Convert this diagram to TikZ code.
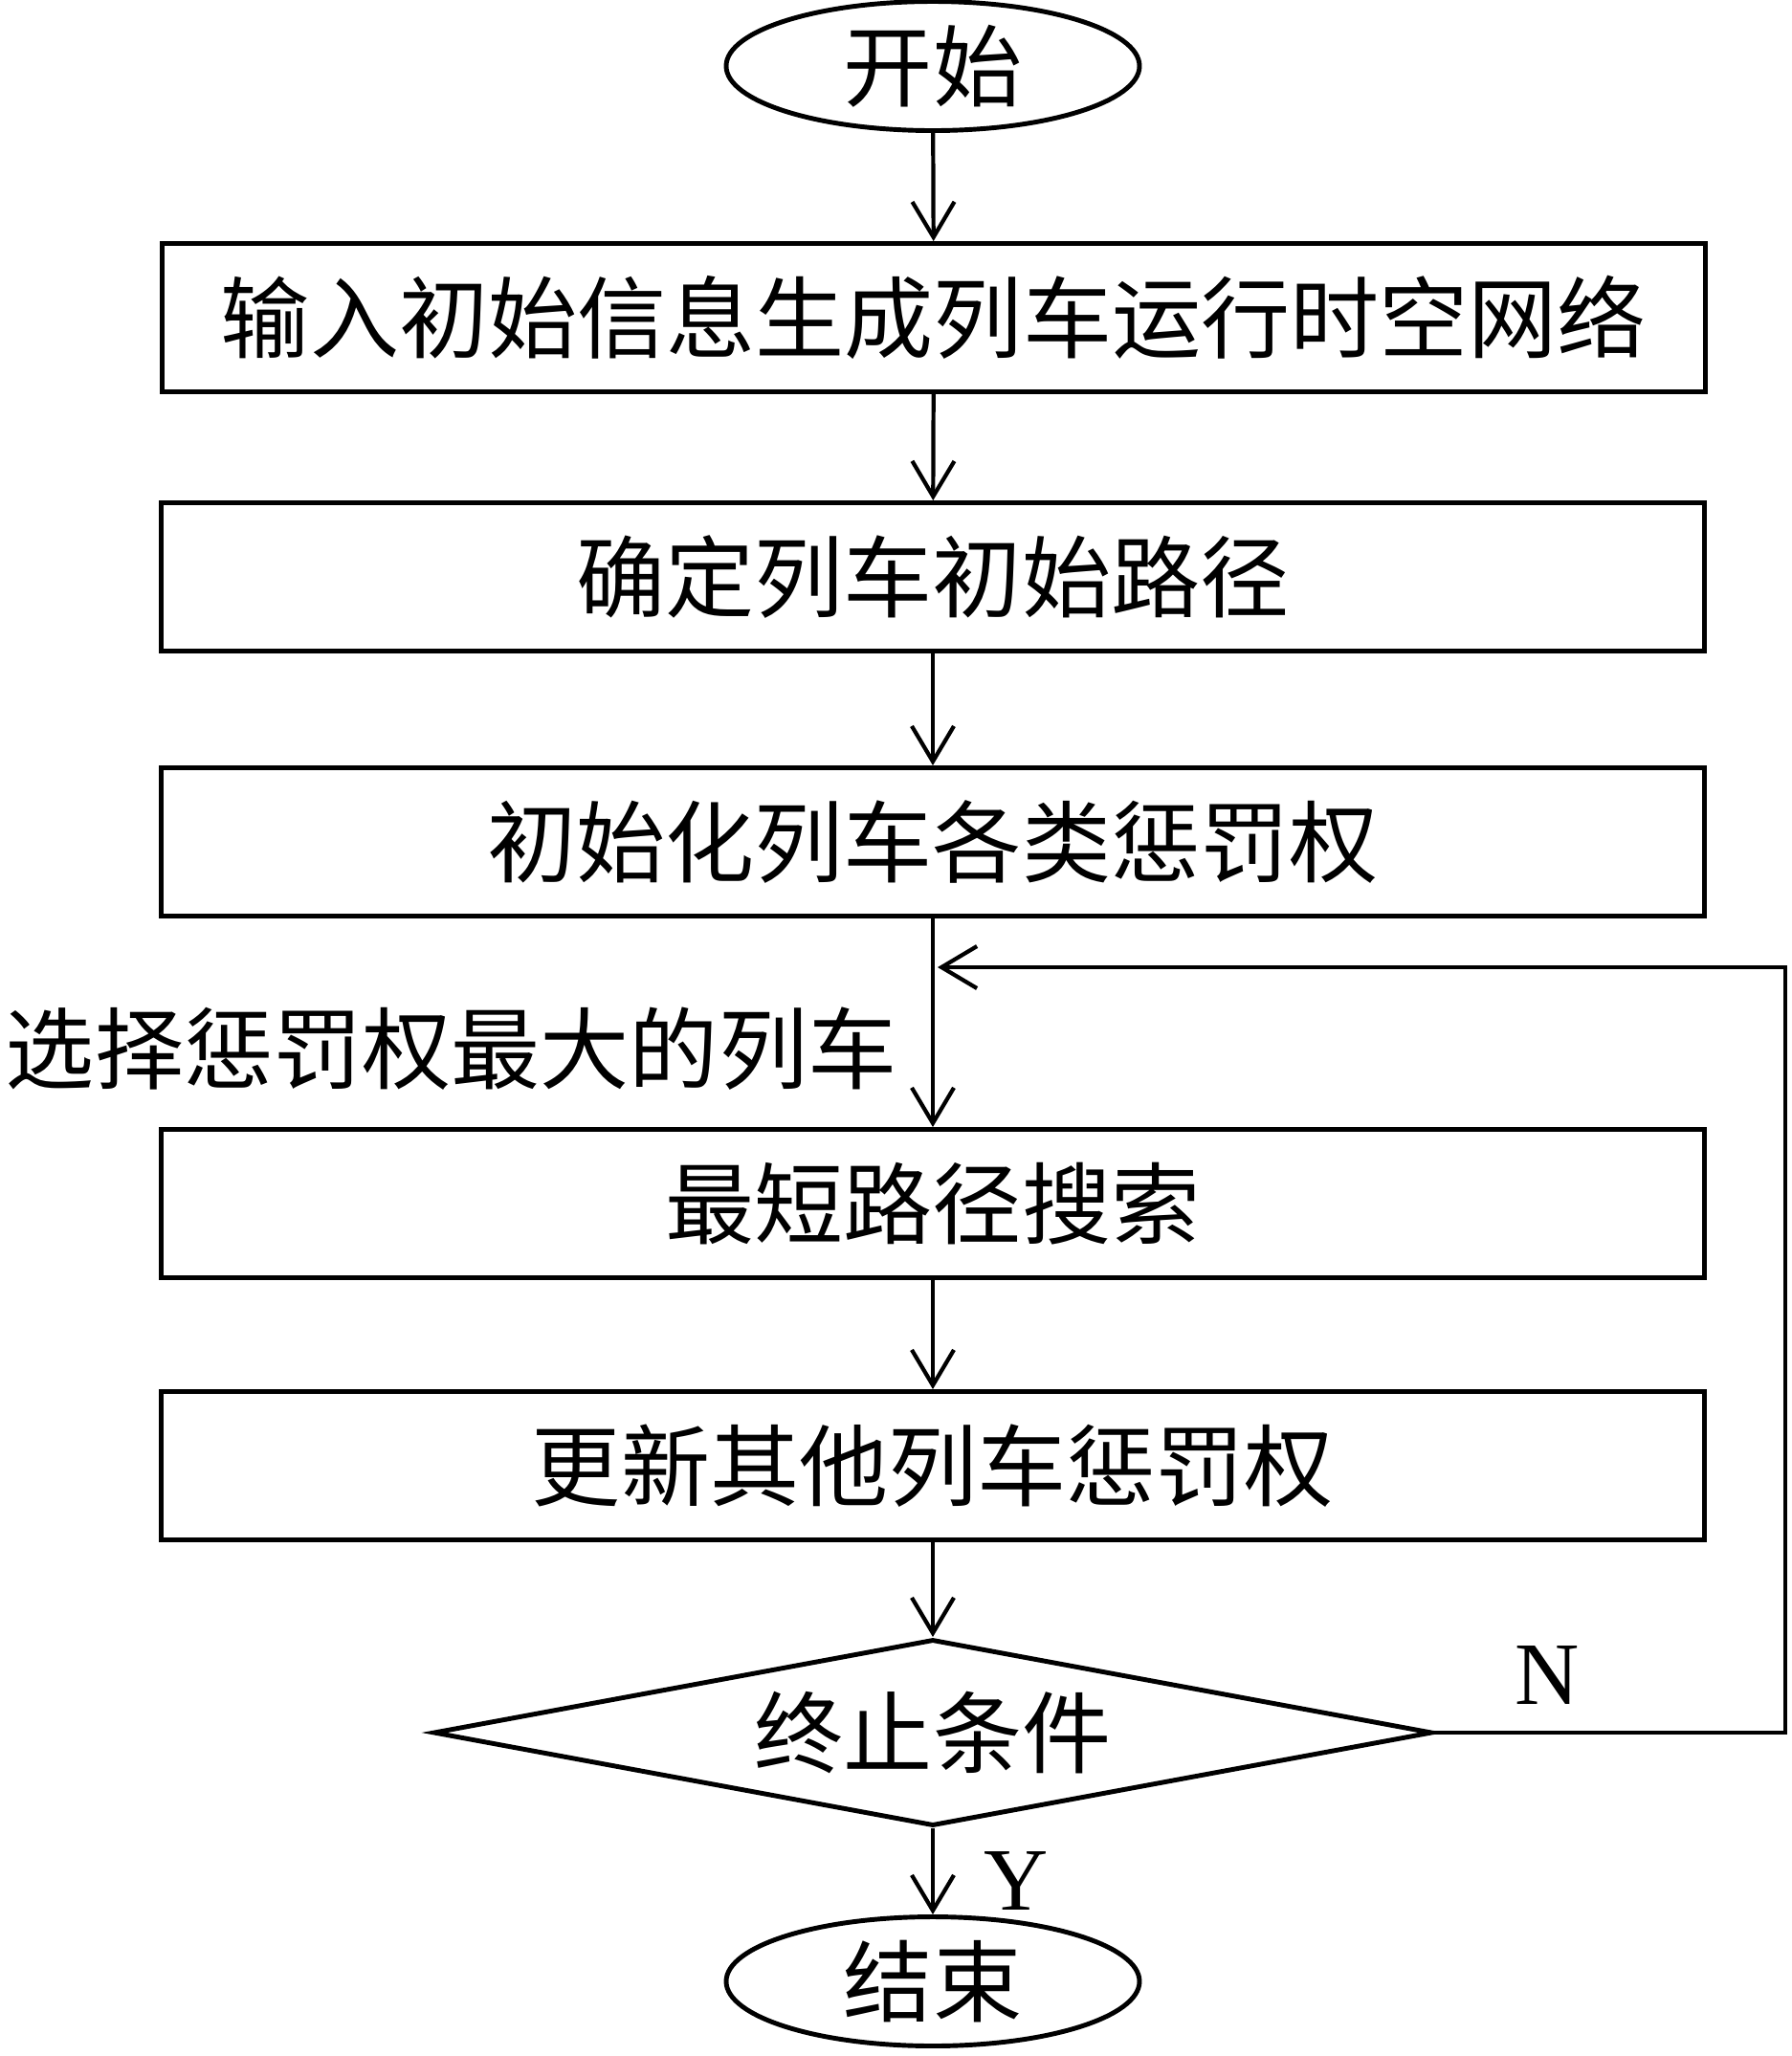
\documentclass[tikz,border=0pt]{standalone}
\usepackage{fontspec}
\setmainfont{Liberation Serif}
\newfontfamily\cjk{Noto Sans CJK SC}
\usetikzlibrary{arrows.meta,shapes,positioning}
\newcommand{\cnfont}{\cjk\fontsize{26.5}{30}\selectfont}

\begin{document}
\begin{tikzpicture}[
    box/.style={rectangle, draw, line width=1.4pt, minimum width=16.13cm, minimum height=1.55cm, font=\cnfont},
    term/.style={ellipse, draw, line width=1.4pt, minimum width=4.32cm, minimum height=1.35cm, inner sep=0pt, font=\cnfont},
    cond/.style={diamond, draw, line width=1.4pt, minimum width=10.44cm, minimum height=1.95cm, aspect=5.35, inner sep=0pt, font=\cnfont},
    arrow/.style={-{Straight Barb[length=3.7mm,width=4.4mm]}, line width=1.2pt},
    yn/.style={font=\fontsize{26.5}{30}\selectfont, inner sep=0pt}
]
    \useasboundingbox (0,0) rectangle (18.73,-21.49);

    \node[term] (start) at (9.75,-0.69) {开始};
    \node[box] (input) at (9.76,-3.32) {输入初始信息生成列车运行时空网络};
    \node[box] (initpath) at (9.75,-6.03) {确定列车初始路径};
    \node[box] (initpen) at (9.75,-8.80) {初始化列车各类惩罚权};
    \node[box] (search) at (9.75,-12.58) {最短路径搜索};
    \node[box] (update) at (9.75,-15.32) {更新其他列车惩罚权};
    \node[cond] (stop) at (9.75,-18.11) {终止条件};
    \node[term] (finish) at (9.75,-20.71) {结束};

    \node[anchor=east, font=\cnfont, inner sep=0pt] (pick) at (9.38,-10.96) {选择惩罚权最大的列车};
    \node[yn] (no) at (16.17,-17.51) {N};
    \node[yn] (yes) at (10.62,-19.66) {Y};

    \coordinate (loopin) at (9.80,-10.11);
    \coordinate (loopr) at (18.66,-10.11);

    \draw[arrow] (start) -- (input);
    \draw[arrow] (input) -- (initpath);
    \draw[arrow] (initpath) -- (initpen);
    \draw[arrow] (initpen) -- (search);
    \draw[arrow] (search) -- (update);
    \draw[arrow] (update) -- (stop);
    \draw[arrow] (stop) -- (finish);
    \draw[arrow] (stop.east) -| (loopr) -- (loopin);
\end{tikzpicture}
\end{document}
